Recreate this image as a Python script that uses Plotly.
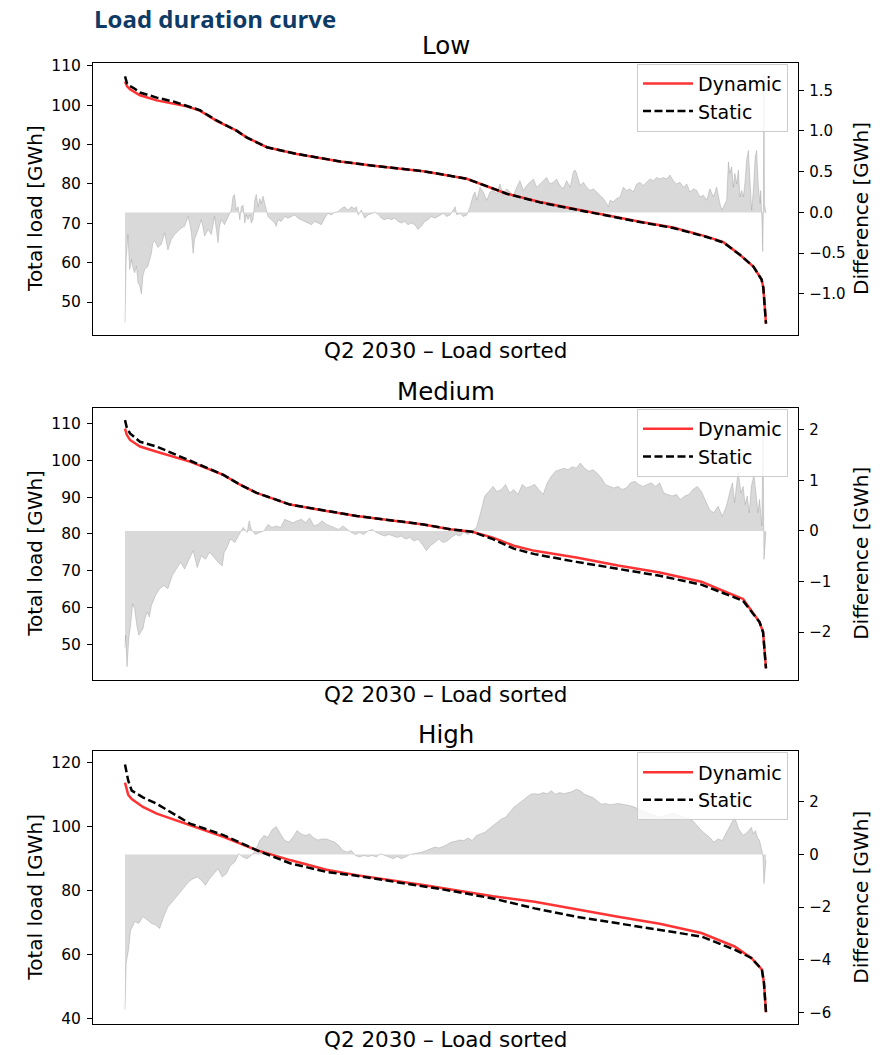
import plotly.graph_objects as go

# ---------------- data (hours of Q2 2030 sorted by load) ----------------
low_load_hours = [0, 7, 17, 28, 51, 108, 170, 210, 255, 312, 380, 414, 483, 585, 732, 846, 1016, 1073, 1164, 1300,
                  1413, 1527, 1640, 1754, 1867, 1981, 2038, 2094, 2140, 2168, 2174, 2183]
low_dynamic = [106.0, 104.8, 104.0, 103.5, 102.5, 101.2, 100.4, 99.7, 98.6, 96.0, 93.5, 91.8, 89.3, 87.6, 85.7, 84.6,
               83.2, 82.5, 81.3, 77.5, 75.4, 73.7, 72.0, 70.4, 68.9, 66.6, 65.2, 62.0, 59.0, 55.7, 53.6, 44.5]
low_static = [107.3, 105.5, 104.8, 104.4, 103.2, 101.9, 100.8, 99.9, 98.7, 96.1, 93.5, 91.8, 89.3, 87.6, 85.7, 84.6,
              83.2, 82.5, 81.3, 77.5, 75.3, 73.6, 71.9, 70.3, 68.8, 66.5, 65.1, 62.0, 59.0, 55.7, 53.6, 44.5]

low_diff_hours = [0, 1, 4, 10, 16, 22, 27, 33, 39, 44,
                  50, 56, 61, 67, 78, 90, 95, 101, 112, 124,
                  135, 146, 158, 169, 180, 192, 203, 215, 220, 226,
                  232, 237, 249, 260, 266, 271, 283, 294, 305, 311,
                  317, 322, 328, 339, 351, 362, 368, 373, 379, 385,
                  391, 396, 402, 408, 413, 419, 425, 430, 436, 442,
                  447, 453, 459, 464, 470, 476, 481, 487, 498, 510,
                  515, 521, 532, 544, 555, 567, 578, 589, 601, 612,
                  623, 635, 646, 657, 669, 680, 691, 703, 714, 725,
                  737, 748, 759, 771, 782, 788, 794, 805, 816, 828,
                  839, 850, 862, 873, 884, 896, 907, 918, 930, 941,
                  952, 964, 975, 987, 998, 1009, 1021, 1032, 1043, 1055,
                  1066,
                  1073, 1084, 1096, 1107, 1118, 1124, 1130, 1141, 1152, 1164,
                  1175, 1186, 1192, 1198, 1209, 1220, 1232, 1243, 1254, 1266,
                  1277, 1288, 1300, 1311, 1323, 1334, 1345, 1357, 1368, 1379,
                  1391, 1402, 1413, 1425, 1436, 1447, 1459, 1470, 1481, 1493,
                  1504, 1516, 1527, 1533, 1538, 1550, 1561, 1572, 1584, 1595,
                  1606, 1618, 1629, 1640, 1646, 1652, 1663, 1674, 1686, 1697,
                  1709, 1720, 1731, 1743, 1754, 1765, 1777, 1788, 1799, 1811,
                  1822, 1833, 1845, 1856, 1867, 1879, 1890, 1902, 1913, 1924,
                  1936, 1947, 1958, 1970, 1981, 1992, 2004, 2015, 2026, 2032,
                  2038, 2049, 2055, 2060, 2066, 2072, 2077, 2083, 2089, 2094,
                  2100, 2106, 2112, 2117, 2123, 2129, 2134, 2140, 2146, 2151,
                  2157, 2163, 2165, 2169, 2172, 2174, 2176, 2178, 2183]
low_diff = [-1.35, -1.06, -0.58, -0.27, -0.70, -0.58, -0.68, -0.74, -0.66, -0.86,
            -0.90, -1.00, -0.78, -0.70, -0.66, -0.50, -0.37, -0.35, -0.43, -0.39,
            -0.25, -0.46, -0.33, -0.27, -0.23, -0.19, -0.17, -0.05, -0.13, -0.25,
            -0.50, -0.33, -0.21, -0.09, -0.19, -0.29, -0.21, -0.27, -0.05, -0.19,
            -0.37, -0.17, -0.09, -0.15, -0.05, 0.03, 0.20, 0.22, 0.03, 0.07,
            -0.09, 0.07, 0.09, -0.13, -0.03, -0.09, -0.03, -0.13, -0.09, 0.15,
            0.22, 0.07, 0.17, 0.11, 0.20, 0.11, 0.01, -0.05, -0.09, -0.13,
            -0.17, -0.09, -0.11, -0.05, -0.07, -0.05, -0.03, -0.07, -0.09, -0.11,
            -0.13, -0.15, -0.11, -0.13, -0.15, -0.07, -0.01, -0.03, 0.00, 0.01,
            0.05, 0.07, 0.03, 0.07, 0.05, 0.07, -0.03, 0.03, -0.07, -0.03,
            -0.01, 0.00, -0.02, -0.07, -0.09, -0.07, -0.09, -0.07, -0.11, -0.13,
            -0.11, -0.15, -0.13, -0.15, -0.21, -0.17, -0.11, -0.09, -0.05, -0.07,
            -0.05,
            -0.03, -0.01, -0.05, -0.03, 0.03, 0.07, -0.03, -0.01, -0.05, -0.03,
            0.07, 0.21, 0.25, 0.15, 0.31, 0.25, 0.15, 0.25, 0.27, 0.23,
            0.35, 0.21, 0.29, 0.25, 0.21, 0.31, 0.39, 0.27, 0.33, 0.37,
            0.41, 0.31, 0.35, 0.39, 0.43, 0.35, 0.37, 0.41, 0.33, 0.29,
            0.39, 0.31, 0.50, 0.52, 0.48, 0.33, 0.37, 0.31, 0.27, 0.29,
            0.25, 0.21, 0.17, 0.11, 0.07, 0.15, 0.13, 0.17, 0.19, 0.31,
            0.27, 0.29, 0.25, 0.35, 0.37, 0.33, 0.37, 0.41, 0.39, 0.43,
            0.41, 0.43, 0.41, 0.46, 0.39, 0.35, 0.37, 0.31, 0.35, 0.25,
            0.29, 0.27, 0.19, 0.21, 0.15, 0.29, 0.19, 0.31, 0.11, 0.03,
            0.07, 0.15, 0.62, 0.48, 0.56, 0.31, 0.48, 0.35, 0.52, 0.19,
            0.27, 0.19, 0.39, 0.64, 0.76, 0.39, 0.03, 0.27, 0.68, 0.76,
            0.31, 0.11, 0.27, -0.09, -0.48, 0.03, 1.70, 0.10, -0.01]

med_load_hours = [0, 6, 17, 51, 108, 221, 335, 392, 448, 562, 675, 789, 1016, 1107, 1182, 1253, 1324, 1395, 1537,
                  1679, 1821, 1963, 2034, 2105, 2161, 2173, 2183]
med_dynamic = [108.7, 107.0, 105.6, 103.8, 102.4, 99.7, 96.1, 93.4, 91.2, 88.0, 86.4, 84.9, 82.6, 81.3, 80.6, 79.0,
               76.8, 75.4, 73.6, 71.4, 69.5, 67.0, 64.6, 62.3, 56.0, 53.3, 43.4]
med_static = [111.0, 109.0, 107.4, 105.1, 103.8, 99.9, 96.1, 93.4, 91.2, 88.0, 86.4, 84.9, 82.6, 81.3, 80.6, 78.6,
              76.0, 74.5, 72.4, 70.5, 68.6, 66.2, 64.1, 61.8, 56.0, 53.3, 43.4]

med_diff_hours = [0, 2, 7, 13, 19, 26, 33, 40, 47, 54,
                  61, 68, 76, 83, 90, 104, 118, 132, 146, 161,
                  175, 189, 203, 217, 232, 246, 260, 274, 288, 303,
                  317, 331, 338, 345, 359, 374, 388, 402, 416, 423,
                  430, 444, 459, 473, 487, 501, 515, 530, 544, 558,
                  572, 586, 601, 615, 629, 643, 657, 671, 686, 700,
                  714, 728, 742, 757, 771, 785, 799, 813, 828, 842,
                  856, 870, 884, 899, 913, 927, 941, 955, 970, 984,
                  998, 1012, 1026, 1040, 1055, 1069, 1083, 1097, 1111, 1126,
                  1140, 1154, 1168, 1182, 1197, 1211, 1225, 1239, 1253, 1267,
                  1282, 1296, 1310, 1324, 1338, 1353, 1367, 1381, 1395, 1409,
                  1424, 1438, 1452, 1466, 1480, 1495, 1509, 1523, 1537, 1551,
                  1565, 1580, 1594, 1608, 1622, 1636, 1651, 1665, 1679, 1693,
                  1707, 1722, 1736, 1750, 1764, 1778, 1792, 1807, 1821, 1835,
                  1849, 1863, 1878, 1892, 1906, 1920, 1934, 1949, 1963, 1977,
                  1991, 2005, 2020, 2034, 2048, 2062, 2069, 2076, 2088, 2098,
                  2105, 2112, 2119, 2126, 2133, 2142, 2150, 2156, 2161, 2169,
                  2173, 2176, 2183]
med_diff = [-2.30, -2.06, -2.68, -2.12, -1.86, -1.44, -1.54, -1.86, -2.06, -1.99,
            -1.93, -1.73, -1.60, -1.70, -1.47, -1.27, -1.14, -1.08, -1.14, -0.88,
            -0.75, -0.62, -0.75, -0.56, -0.39, -0.72, -0.49, -0.56, -0.42, -0.52,
            -0.62, -0.69, -0.42, -0.36, -0.16, -0.23, -0.07, 0.07, -0.03, 0.20,
            0.03, -0.07, -0.03, 0.00, 0.13, 0.07, 0.10, 0.07, 0.23, 0.20,
            0.16, 0.20, 0.23, 0.16, 0.26, 0.10, 0.13, 0.20, 0.13, 0.10,
            0.07, 0.03, 0.10, 0.03, -0.03, -0.07, -0.03, -0.07, 0.00, 0.03,
            -0.03, -0.07, -0.10, -0.07, -0.10, -0.13, -0.10, -0.16, -0.13, -0.20,
            -0.16, -0.26, -0.39, -0.29, -0.23, -0.16, -0.23, -0.20, -0.13, -0.07,
            -0.10, -0.03, -0.07, 0.00, 0.07, 0.36, 0.69, 0.78, 0.88, 0.78,
            0.82, 0.92, 0.75, 0.82, 0.72, 0.92, 0.85, 0.88, 0.92, 0.82,
            0.72, 0.95, 1.08, 1.18, 1.21, 1.24, 1.21, 1.27, 1.24, 1.34,
            1.24, 1.18, 1.21, 1.14, 1.05, 0.92, 0.88, 0.85, 0.88, 0.82,
            0.85, 0.95, 0.98, 0.92, 0.88, 0.92, 0.95, 0.88, 0.95, 0.75,
            0.72, 0.69, 0.72, 0.62, 0.69, 0.72, 0.82, 0.88, 0.78, 0.59,
            0.42, 0.36, 0.49, 0.29, 0.49, 0.82, 0.95, 0.56, 1.18, 0.75,
            0.88, 0.52, 0.69, 0.36, 0.88, 1.11, 0.62, 0.36, 0.62, 0.10,
            2.19, -0.56, -0.03]

high_load_hours = [0, 6, 11, 23, 61, 108, 221, 335, 448, 562, 686, 789, 1016, 1111, 1253, 1395, 1537, 1679, 1821,
                   1963, 2076, 2133, 2169, 2176, 2183]
high_dynamic = [113.6, 111.1, 109.8, 108.5, 106.0, 103.9, 100.3, 96.7, 92.5, 89.4, 86.4, 84.7, 81.6, 80.2, 78.1,
                76.4, 74.0, 71.7, 69.5, 66.6, 62.4, 58.8, 55.2, 51.1, 41.8]
high_static = [119.3, 116.0, 114.2, 111.1, 109.0, 107.0, 100.8, 97.2, 92.5, 88.4, 85.7, 84.5, 81.3, 79.8, 77.4,
               74.3, 71.7, 69.7, 67.6, 65.5, 61.4, 58.8, 55.2, 51.1, 41.8]

high_diff_hours = [0, 2, 4, 12, 19, 26, 33, 47, 61, 76,
                   90, 104, 118, 132, 146, 161, 175, 189, 203, 217,
                   232, 246, 260, 274, 288, 303, 317, 331, 345, 359,
                   374, 388, 402, 416, 430, 444, 459, 473, 487, 501,
                   515, 530, 544, 558, 572, 586, 601, 615, 629, 643,
                   657, 671, 686, 700, 714, 728, 742, 757, 771, 785,
                   799, 813, 828, 842, 856, 870, 884, 899, 913, 927,
                   941, 955, 970, 984, 998, 1012, 1026, 1040, 1055, 1069,
                   1083, 1097, 1111, 1126, 1140, 1154, 1168, 1182, 1197, 1211,
                   1225, 1239, 1253, 1267, 1282, 1296, 1310, 1324, 1338, 1353,
                   1367, 1381, 1395, 1409, 1424, 1438, 1452, 1466, 1480, 1495,
                   1509, 1523, 1537, 1551, 1565, 1580, 1594, 1608, 1622, 1636,
                   1651, 1665, 1679, 1693, 1707, 1722, 1736, 1750, 1764, 1778,
                   1792, 1807, 1821, 1835, 1849, 1863, 1878, 1892, 1906, 1920,
                   1934, 1949, 1963, 1977, 1991, 2005, 2020, 2034, 2048, 2062,
                   2076, 2090, 2105, 2119, 2133, 2140, 2147, 2154, 2161, 2169,
                   2173, 2176, 2183]
high_diff = [-5.89, -4.88, -4.13, -3.62, -2.87, -2.74, -2.55, -2.62, -2.36, -2.49,
             -2.62, -2.68, -2.81, -2.36, -1.99, -1.80, -1.61, -1.42, -1.23, -1.04,
             -0.92, -0.86, -0.98, -1.17, -0.92, -0.73, -0.54, -0.86, -0.73, -0.42,
             -0.29, 0.03, -0.10, -0.16, -0.04, 0.15, 0.53, 0.72, 0.65, 0.94,
             1.06, 0.78, 0.53, 0.47, 0.65, 0.91, 0.78, 0.72, 0.78, 0.63,
             0.55, 0.59, 0.59, 0.53, 0.47, 0.34, 0.15, 0.09, 0.15, -0.04,
             -0.10, -0.04, -0.08, -0.04, -0.10, 0.03, -0.04, -0.10, -0.16, -0.08,
             -0.16, -0.10, 0.00, 0.03, 0.05, 0.09, 0.15, 0.21, 0.28, 0.25,
             0.30, 0.38, 0.47, 0.50, 0.55, 0.53, 0.63, 0.53, 0.72, 0.78,
             0.84, 0.97, 1.09, 1.22, 1.35, 1.41, 1.60, 1.79, 1.91, 2.04,
             2.16, 2.29, 2.31, 2.29, 2.35, 2.31, 2.42, 2.29, 2.35, 2.31,
             2.35, 2.39, 2.48, 2.42, 2.29, 2.23, 2.16, 2.04, 1.91, 1.94,
             1.89, 1.91, 1.94, 1.91, 1.89, 1.85, 1.79, 1.72, 1.66, 1.60,
             1.53, 1.47, 1.41, 1.47, 1.53, 1.56, 1.53, 1.47, 1.41, 1.35,
             1.28, 1.09, 0.91, 0.78, 0.65, 0.47, 0.59, 0.53, 0.84, 1.09,
             1.41, 0.97, 0.72, 0.84, 1.03, 0.78, 0.91, 0.65, 0.53, 0.15,
             -0.10, -1.11, -0.23]

scenario_names = ["Low", "Medium", "High"]
series_names = ["Dynamic", "Static"]
x_label = "Q2 2030 \u2013 Load sorted"
left_label = "Total load [GWh]"
right_label = "Difference [GWh]"
main_title = "Load duration curve"

# tick labels of the right-hand (difference) axes
low_diff_ticks = [-1.0, -0.5, 0.0, 0.5, 1.0, 1.5]
med_diff_ticks = [-2, -1, 0, 1, 2]
high_diff_ticks = [-6, -4, -2, 0, 2]

# ---------------- layout constants ----------------
W, H = 894, 1055
FONT = "DejaVu Sans"
BOX_X = (93, 798)                       # plot box, px
BOX_Y = [(58, 333), (406, 680), (752, 1027)]
X_RANGE = [-109, 2292]
LOAD_RANGES = [[41.5, 110.8], [40.27, 114.32], [38.1, 123.4]]
LOAD_DTICK = [10, 10, 20]
DIFF_RANGES = [[-1.51, 1.84], [-2.94, 2.43], [-6.45, 3.92]]
DIFF_TICKS = [low_diff_ticks, med_diff_ticks, high_diff_ticks]
DIFF_FMT = [".1f", "d", "d"]

panels = [
    (low_load_hours, low_dynamic, low_static, low_diff_hours, low_diff),
    (med_load_hours, med_dynamic, med_static, med_diff_hours, med_diff),
    (high_load_hours, high_dynamic, high_static, high_diff_hours, high_diff),
]

fig = go.Figure()
layout = dict(
    width=W, height=H, autosize=False,
    margin=dict(l=0, r=0, t=0, b=0),
    paper_bgcolor="white", plot_bgcolor="white",
    font=dict(family=FONT, color="black"),
    showlegend=True,
)


def px_x(p):
    return p / W


def px_y(p):
    return 1 - p / H


annotations = []
for i, (lh, dyn, sta, dh, diff) in enumerate(panels):
    n = i + 1
    xa = "x" if n == 1 else f"x{n}"
    yd = "y" if n == 1 else f"y{2 * i + 1}"
    yl = f"y{2 * i + 2}"
    xkey = "xaxis" if n == 1 else f"xaxis{n}"
    ydkey = "yaxis" if n == 1 else f"yaxis{2 * i + 1}"
    ylkey = f"yaxis{2 * i + 2}"
    leg = "legend" if n == 1 else f"legend{n}"
    top, bot = BOX_Y[i]
    ydom = [px_y(bot), px_y(top)]

    layout[xkey] = dict(domain=[px_x(BOX_X[0]), px_x(BOX_X[1])], anchor=yd, range=X_RANGE,
                        showticklabels=False, ticks="", showgrid=False, zeroline=False,
                        showline=True, mirror=True, linecolor="black", linewidth=1.3)
    layout[ydkey] = dict(domain=ydom, anchor=xa, side="right", range=DIFF_RANGES[i],
                         tickmode="array", tickvals=DIFF_TICKS[i], tickformat=DIFF_FMT[i],
                         ticks="outside", ticklen=5, tickwidth=1.2, tickcolor="black",
                         ticklabelstandoff=2,
                         tickfont=dict(family=FONT, size=15, color="black"),
                         showgrid=False, zeroline=False,
                         showline=True, mirror=True, linecolor="black", linewidth=1.3)
    layout[ylkey] = dict(overlaying=yd, anchor=xa, side="left", range=LOAD_RANGES[i],
                         dtick=LOAD_DTICK[i], tick0=0,
                         ticks="outside", ticklen=5, tickwidth=1.2, tickcolor="black",
                         ticklabelstandoff=3,
                         tickfont=dict(family=FONT, size=15.5, color="black"),
                         showgrid=False, zeroline=False, showline=False)
    layout[leg] = dict(x=788 / W, xanchor="right", y=px_y(top + 1), yanchor="top",
                       bgcolor="rgba(255,255,255,0.8)", bordercolor="#cccccc", borderwidth=1,
                       font=dict(family=FONT, size=19, color="black"), itemwidth=50,
                       tracegroupgap=0)

    fig.add_trace(go.Scatter(x=dh, y=diff, xaxis=xa, yaxis=yd, mode="lines",
                             line=dict(color="rgba(128,128,128,0.3)", width=1),
                             fill="tozeroy", fillcolor="rgba(128,128,128,0.3)",
                             showlegend=False, hoverinfo="skip"))
    fig.add_trace(go.Scatter(x=lh, y=dyn, xaxis=xa, yaxis=yl, mode="lines", name=series_names[0],
                             line=dict(color="rgba(255,0,0,0.8)", width=2.5), legend=leg))
    fig.add_trace(go.Scatter(x=lh, y=sta, xaxis=xa, yaxis=yl, mode="lines", name=series_names[1],
                             line=dict(color="black", width=2.5, dash="8px,3.5px"), legend=leg))

    cx = px_x((BOX_X[0] + BOX_X[1]) / 2)
    annotations.append(dict(text=scenario_names[i], x=cx, y=px_y(top - 17), xref="paper", yref="paper",
                            xanchor="center", yanchor="middle", showarrow=False,
                            font=dict(family=FONT, size=24.5, color="black")))
    annotations.append(dict(text=x_label, x=cx, y=px_y(bot + 15), xref="paper", yref="paper",
                            xanchor="center", yanchor="middle", showarrow=False,
                            font=dict(family=FONT, size=21.5, color="black")))
    cy = px_y((top + bot) / 2 + 10)
    annotations.append(dict(text=left_label, x=px_x(35), y=cy, xref="paper", yref="paper",
                            xanchor="center", yanchor="middle", textangle=-90, showarrow=False,
                            font=dict(family=FONT, size=20, color="black")))
    annotations.append(dict(text=right_label, x=px_x(861), y=cy, xref="paper", yref="paper",
                            xanchor="center", yanchor="middle", textangle=-90, showarrow=False,
                            font=dict(family=FONT, size=20, color="black")))

annotations.append(dict(text="<b>" + main_title + "</b>", x=px_x(92), y=px_y(14), xref="paper", yref="paper",
                        xanchor="left", yanchor="middle", showarrow=False,
                        font=dict(family="Open Sans", size=24, color="#0e3a66")))
layout["annotations"] = annotations
fig.update_layout(**layout)
fig.write_html("out.html")
